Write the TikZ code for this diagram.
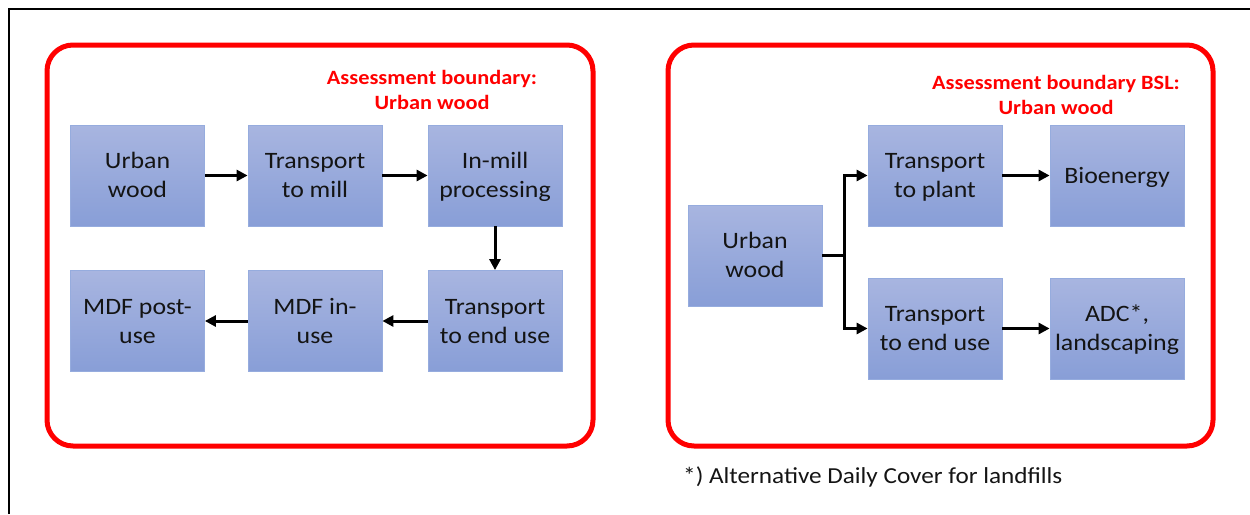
\documentclass[tikz,border=0pt]{standalone}
\usepackage{fontspec}
\setmainfont{Carlito}[FakeStretch=1.1]
\usetikzlibrary{arrows.meta}
\definecolor{bxtop}{RGB}{168,181,224}
\definecolor{bxbot}{RGB}{136,158,215}
\definecolor{bxline}{RGB}{150,172,222}
\definecolor{txt}{RGB}{20,20,20}
\tikzset{
  bx/.style={draw=bxline, line width=0.8pt, top color=bxtop, bottom color=bxbot,
    minimum width=134pt, minimum height=101pt, inner sep=0pt, align=center,
    text=txt, font=\fontsize{23.5}{29}\selectfont, text height=50pt, text depth=6pt},
  bxone/.style={bx, text height=21pt, text depth=6pt},
  redbox/.style={draw=red, line width=5pt, rounded corners=26pt},
  arr/.style={line width=3pt, -{Triangle[length=11pt,width=11pt]}},
  ttl/.style={text=red, align=center, font=\bfseries\fontsize{20.3}{25.5}\selectfont, inner sep=0pt},
}
\begin{document}
\begin{tikzpicture}[x=1pt,y=-1pt]
\useasboundingbox (0,0) rectangle (1250,514);
\draw[line width=2pt] (9,514) -- (9,9) -- (1250,9);
% left panel
\draw[redbox] (47,45) rectangle (593,446);
\node[ttl] (lt) at (432,90) {Assessment boundary:\\Urban wood};
\node[bx] (a1) at (137.5,175.5) {Urban\\wood};
\node[bx] (a2) at (315,175.5) {Transport\\to mill};
\node[bx] (a3) at (495,175.5) {In-mill\\processing};
\node[bx] (a4) at (495,321) {Transport\\to end use};
\node[bx] (a5) at (315,321) {MDF in-\\use};
\node[bx] (a6) at (137.5,321) {MDF post-\\use};
\draw[arr] (a1) -- (a2);
\draw[arr] (a2) -- (a3);
\draw[arr] (a3) -- (a4);
\draw[arr] (a4) -- (a5);
\draw[arr] (a5) -- (a6);
% right panel
\draw[redbox] (668,45) rectangle (1213,446);
\node[ttl] (rt) at (1056,95) {Assessment boundary BSL:\\Urban wood};
\node[bx] (b1) at (755,255.5) {Urban\\wood};
\node[bx] (b2) at (935,175.5) {Transport\\to plant};
\node[bxone] (b3) at (1117,175.5) {Bioenergy};
\node[bx] (b4) at (935,328.5) {Transport\\to end use};
\node[bx] (b5) at (1117,328.5) {ADC*,\\landscaping};
\coordinate (fk) at (844,255.5);
\draw[line width=3pt] (b1.east) -- (fk);
\draw[arr] (fk) |- (b2.west);
\draw[arr] (fk) |- (b4.west);
\draw[arr] (b2) -- (b3);
\draw[arr] (b4) -- (b5);
\node[anchor=base west, inner sep=0pt, text=txt, font=\fontsize{22.9}{26}\selectfont] (fn) at (683,483) {*) Alternative Daily Cover for landfills};
\end{tikzpicture}
\end{document}
